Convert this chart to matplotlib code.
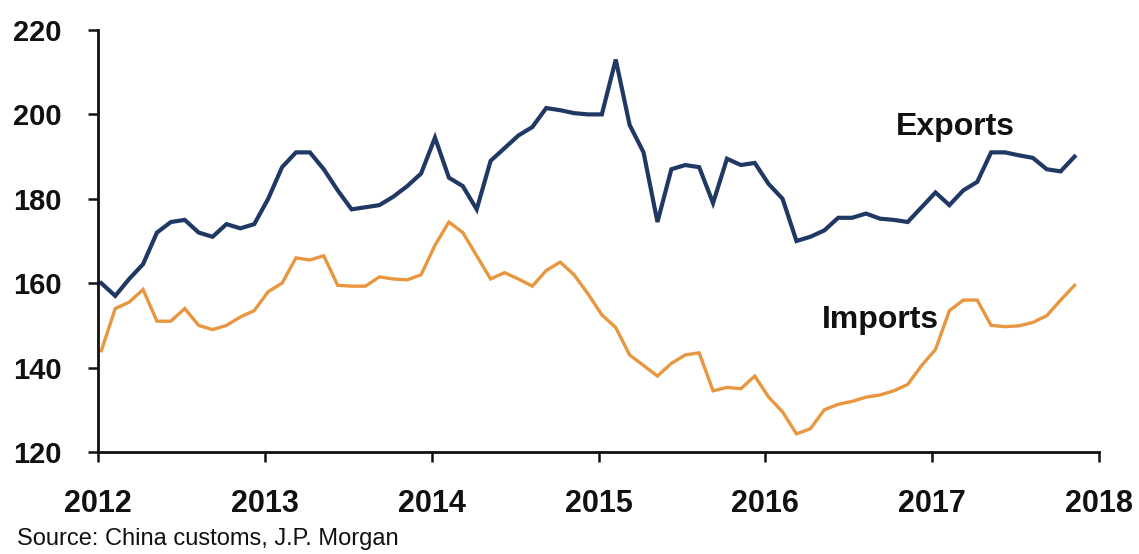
import matplotlib
matplotlib.use("Agg")
import matplotlib.pyplot as plt
from matplotlib import font_manager
import numpy as np

# ---- data (monthly, Jan 2012 - Nov 2017) ----
exports = [160, 157, 161, 164.5, 172, 174.5, 175, 172, 171, 174,
           173, 174, 180, 187.5, 191, 191, 187, 182, 177.5, 178,
           178.5, 180.5, 183, 186, 194.5, 185, 183, 177.5, 189, 192,
           195, 197, 201.5, 201, 200.3, 200, 200, 213, 197.5, 191,
           174.5, 187, 188, 187.5, 179, 189.5, 188, 188.5, 183.5, 180,
           170, 171, 172.5, 175.5, 175.5, 176.5, 175.3, 175, 174.5, 178,
           181.5, 178.5, 182, 184, 191, 191, 190.3, 189.7, 187, 186.5, 190]
imports = [144, 154, 155.5, 158.5, 151, 151, 154, 150, 149, 150,
           152, 153.5, 158, 160, 166, 165.5, 166.5, 159.5, 159.3, 159.3,
           161.5, 161, 160.8, 162, 169, 174.5, 172, 166.5, 161, 162.5,
           161, 159.3, 163, 165, 162, 157.5, 152.5, 149.5, 143, 140.5,
           138, 141, 143, 143.5, 134.5, 135.3, 135, 138, 133, 129.5,
           124.3, 125.5, 130, 131.3, 132, 133, 133.5, 134.5, 136, 140.5,
           144.3, 153.5, 156, 156, 150, 149.7, 149.9, 150.7, 152.3, 156, 159.5]
start_year = 2012
x_ticks = [2012, 2013, 2014, 2015, 2016, 2017, 2018]
x_tick_labels = ["2012", "2013", "2014", "2015", "2016", "2017", "2018"]
y_ticks = [120, 140, 160, 180, 200, 220]
source_text = "Source: China customs, J.P. Morgan"

months = start_year + 0.02 + np.arange(len(exports)) / 12.0

available = {f.name for f in font_manager.fontManager.ttflist}
main_font = "Liberation Sans" if "Liberation Sans" in available else "DejaVu Sans"
narrow = "Liberation Sans Narrow" in available
src_font = "Liberation Sans Narrow" if narrow else main_font
src_size = 20.5 if narrow else 17

plt.rcParams["font.family"] = [main_font, "DejaVu Sans"]

fig = plt.figure(figsize=(11.39, 5.54), dpi=100)
ax = fig.add_axes([98 / 1139, 1 - 452 / 554, (1099 - 98) / 1139, (452 - 30) / 554])

ax.plot(months, imports, color="#E8963F", lw=2.4, solid_joinstyle="miter")
ax.plot(months, exports, color="#1F3864", lw=3.0, solid_joinstyle="miter")

ax.set_xlim(2012, 2018)
ax.set_ylim(120, 220)
ax.set_xticks(x_ticks)
ax.set_xticklabels(x_tick_labels)
ax.set_yticks(y_ticks)

for s in ("top", "right"):
    ax.spines[s].set_visible(False)
for s in ("left", "bottom"):
    ax.spines[s].set_linewidth(2.0)
    ax.spines[s].set_color("#111111")

ax.tick_params(axis="x", direction="out", length=7, width=1.8, pad=20,
               labelsize=22, colors="#111111")
ax.tick_params(axis="y", direction="out", length=7, width=1.8, pad=19,
               labelsize=21, colors="#111111")
for lab in ax.get_xticklabels() + ax.get_yticklabels():
    lab.set_fontweight("bold")

ax.text(2016.78, 195.1, "Exports", fontsize=23, fontweight="bold",
        color="#111111", ha="left", va="baseline")
ax.text(2016.34, 149.4, "Imports", fontsize=23, fontweight="bold",
        color="#111111", ha="left", va="baseline")

fig.text(17 / 1139, 1 - 545 / 554, source_text, fontsize=src_size,
         family=[src_font, "DejaVu Sans"], color="#111111",
         ha="left", va="baseline")

fig.savefig("out.png", dpi=100)
